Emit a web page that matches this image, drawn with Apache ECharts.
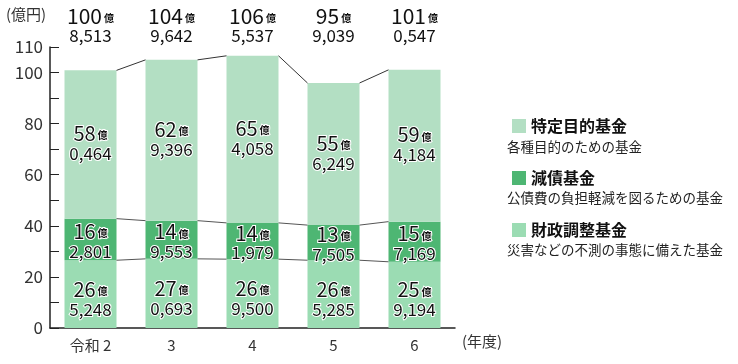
<!DOCTYPE html>
<html><head><meta charset="utf-8">
<script src="https://cdn.jsdelivr.net/npm/echarts@6/dist/echarts.min.js"></script>
<style>html,body{margin:0;padding:0;background:#fff}#c{width:738px;height:364px}</style>
</head><body><div id="c"></div>
<script>
const categories = ['令和 2', '3', '4', '5', '6'];
// values in 億円 (億 + 万/10000)
const zaiseiChousei = [26.5248, 27.0693, 26.9500, 26.5285, 25.9194];
const gensai = [16.2801, 14.9553, 14.1979, 13.7505, 15.7169];
const tokuteiMokuteki = [58.0464, 62.9396, 65.4058, 55.6249, 59.4184];
const totals = [100.8513, 104.9642, 106.5537, 95.9039, 101.0547];
const yLabels = [0, 20, 40, 60, 80, 100, 110];
const seriesNames = ['特定目的基金', '減債基金', '財政調整基金'];
const seriesNotes = ['各種目的のための基金', '公債費の負担軽減を図るための基金', '災害などの不測の事態に備えた基金'];

const FONT = '"Noto Sans CJK JP", "Noto Sans", sans-serif';
const BAR_W = 52;
const colors = { top: '#b3dfc3', mid: '#4eb673', bot: '#9bdcb3' };

function split(v) {
  const oku = Math.floor(v + 1e-9);
  const man = Math.round((v - oku) * 10000);
  const s = String(man).padStart(4, '0');
  return [oku, s.slice(0, 1) + ',' + s.slice(1)];
}
function labelText(v) {
  const p = split(v);
  return '{a|' + p[0] + '}{b|億}\n{c|' + p[1] + '}';
}
const barRich = {
  a: { fontSize: 20, lineHeight: 20, color: '#111', fontFamily: FONT, textBorderColor: '#fff', textBorderWidth: 2 },
  b: { fontSize: 10, lineHeight: 20, color: '#111', fontWeight: 'bold', fontFamily: FONT, textBorderColor: '#fff', textBorderWidth: 2, padding: [4, 0, 0, 2] },
  c: { fontSize: 17, lineHeight: 20, color: '#111', fontFamily: FONT, textBorderColor: '#fff', textBorderWidth: 2 }
};

const cumBot = zaiseiChousei.slice();
const cumMid = zaiseiChousei.map((v, i) => v + gensai[i]);

function barSeries(name, data, color, offY) {
  return {
    name, type: 'bar', stack: 'all', data, barWidth: BAR_W,
    itemStyle: { color },
    label: { show: true, position: 'inside', offset: [0, offY], formatter: p => labelText(p.value), rich: barRich },
    emphasis: { disabled: true }, z: 2
  };
}

const option = {
  animation: false,
  textStyle: { fontFamily: FONT },
  grid: { left: 50, right: 283, top: 47, bottom: 36 },
  legend: {
    data: seriesNames, orient: 'vertical', left: 507, top: 113,
    itemWidth: 14, itemHeight: 14, itemGap: 36, icon: 'rect', selectedMode: false,
    textStyle: { fontSize: 16, fontWeight: 'bold', color: '#111', fontFamily: FONT, lineHeight: 16 }
  },
  xAxis: {
    type: 'category', data: categories,
    axisLine: { lineStyle: { color: '#222', width: 1.5 } },
    axisTick: { inside: true, length: 6, lineStyle: { color: '#222' } },
    axisLabel: { fontSize: 15, color: '#333', margin: 10, fontFamily: FONT }
  },
  yAxis: {
    type: 'value', min: 0, max: 110, interval: 10,
    splitLine: { show: false },
    axisLine: { show: true, lineStyle: { color: '#222', width: 1.5 } },
    axisTick: { show: true, inside: true, length: 9, lineStyle: { color: '#222' } },
    axisLabel: { fontSize: 17, color: '#333', margin: 7, fontFamily: FONT,
      formatter: v => yLabels.indexOf(v) >= 0 ? String(v) : '' }
  },
  graphic: [
    { type: 'text', left: 6, top: 7, style: { text: '(億円)', fontSize: 15, fill: '#333', fontFamily: FONT } },
    { type: 'text', left: 462, top: 334, style: { text: '(年度)', fontSize: 15, fill: '#333', fontFamily: FONT } },
    { type: 'text', left: 507, top: 140, style: { text: seriesNotes[0], fontSize: 13.5, fill: '#222', fontFamily: FONT } },
    { type: 'text', left: 507, top: 191, style: { text: seriesNotes[1], fontSize: 13.5, fill: '#222', fontFamily: FONT } },
    { type: 'text', left: 507, top: 243, style: { text: seriesNotes[2], fontSize: 13.5, fill: '#222', fontFamily: FONT } }
  ],
  series: [
    barSeries(seriesNames[2], zaiseiChousei, colors.bot, 5),
    barSeries(seriesNames[1], gensai, colors.mid, 2),
    barSeries(seriesNames[0], tokuteiMokuteki, colors.top, -1),
    {
      type: 'custom', name: 'connectors', silent: true, z: 5,
      data: categories.slice(0, categories.length - 1).map((c, i) => [i]),
      renderItem: function (params, api) {
        const i = api.value(0);
        const half = BAR_W / 2;
        const levels = [[cumBot, '#555'], [cumMid, '#555'], [totals, '#333']];
        const children = levels.map(function (lv) {
          const a = api.coord([i, lv[0][i]]);
          const b = api.coord([i + 1, lv[0][i + 1]]);
          return { type: 'line', shape: { x1: a[0] + half, y1: a[1], x2: b[0] - half, y2: b[1] },
            style: { stroke: lv[1], lineWidth: 1 } };
        });
        return { type: 'group', children };
      }
    },
    {
      type: 'custom', name: 'totals', silent: true, z: 6,
      data: totals.map((v, i) => [i, v]),
      renderItem: function (params, api) {
        const x = api.coord([api.value(0), 0])[0];
        const p = split(api.value(1));
        return {
          type: 'text', x: x, y: 26,
          style: {
            text: '{a|' + p[0] + '}{b|億}\n{c|' + p[1] + '}',
            align: 'center', verticalAlign: 'middle',
            rich: {
              a: { fontSize: 21, lineHeight: 20, fill: '#111', fontFamily: FONT },
              b: { fontSize: 10, lineHeight: 20, fill: '#111', fontWeight: 'bold', fontFamily: FONT, padding: [5, 0, 0, 2] },
              c: { fontSize: 17, lineHeight: 20, fill: '#111', fontFamily: FONT }
            }
          }
        };
      }
    }
  ]
};
const chart = echarts.init(document.getElementById('c'), null, { renderer: 'canvas' });
chart.setOption(option);
</script></body></html>
